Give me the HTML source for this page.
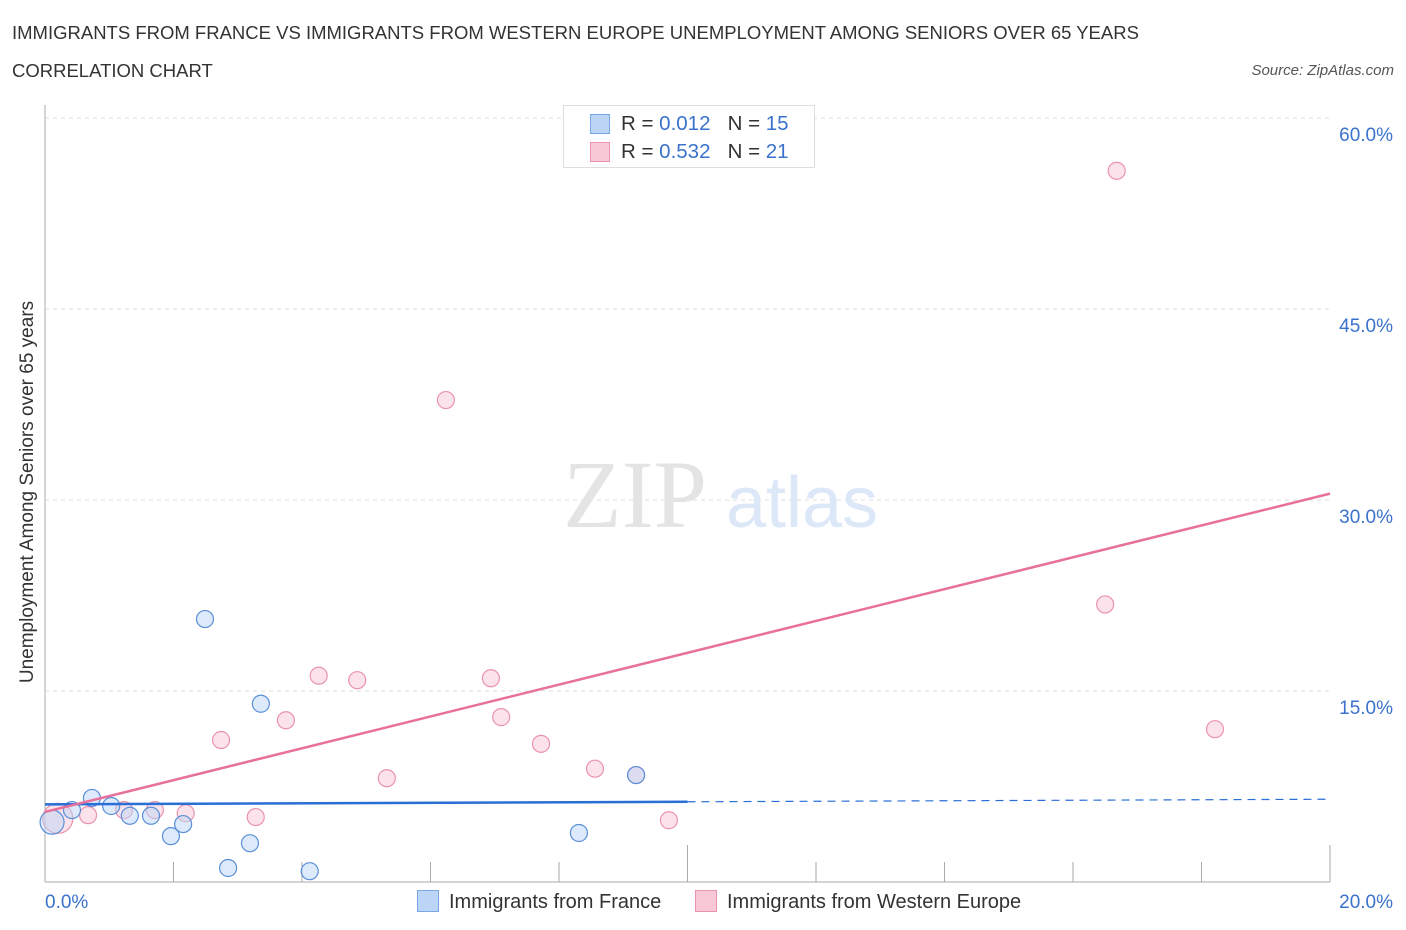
<!DOCTYPE html>
<html><head><meta charset="utf-8"><style>
body{margin:0;background:#fff;font-family:"Liberation Sans",sans-serif;}
#c{position:relative;width:1406px;height:930px;overflow:hidden;}
.t{position:absolute;white-space:nowrap;}
</style></head><body>
<div id="c">
<div class="t" style="left:12px;top:22px;font-size:18.5px;color:#333">IMMIGRANTS FROM FRANCE VS IMMIGRANTS FROM WESTERN EUROPE UNEMPLOYMENT AMONG SENIORS OVER 65 YEARS</div>
<div class="t" style="left:12px;top:60px;font-size:18.5px;color:#333">CORRELATION CHART</div>
<div class="t" style="right:12px;top:62px;font-size:15px;color:#555;font-style:italic">Source: ZipAtlas.com</div>
<svg id="s" width="1406" height="930" style="position:absolute;left:0;top:0"></svg>
<div class="t" style="left:563px;top:105px;width:250px;height:61px;border:1px solid #ddd;background:#fff;font-size:20.5px;color:#333">
<div style="position:absolute;left:26px;top:8px;width:18px;height:18px;background:#bcd5f7;border:1px solid #7aa7e6"></div>
<div style="position:absolute;left:57px;top:6px">R = <span style="color:#3a72cc">0.012</span>&nbsp;&nbsp;&nbsp;N = <span style="color:#3a72cc">15</span></div>
<div style="position:absolute;left:26px;top:36px;width:18px;height:18px;background:#f9c8d7;border:1px solid #ea93ad"></div>
<div style="position:absolute;left:57px;top:34px">R = <span style="color:#3a72cc">0.532</span>&nbsp;&nbsp;&nbsp;N = <span style="color:#3a72cc">21</span></div>
</div>
<div class="t" style="left:417px;top:890px;font-size:20px;color:#333"><span style="display:inline-block;width:20px;height:20px;background:#bcd5f7;border:1px solid #7aa7e6;vertical-align:-4px;margin-right:10px"></span>Immigrants from France</div>
<div class="t" style="left:695px;top:890px;font-size:20px;color:#333"><span style="display:inline-block;width:20px;height:20px;background:#f9c8d7;border:1px solid #ea93ad;vertical-align:-4px;margin-right:10px"></span>Immigrants from Western Europe</div>
<div class="t" style="top:492px;font-size:19px;color:#333;transform:translate(-50%,-50%) rotate(-90deg);left:28px">Unemployment Among Seniors over 65 years</div>
</div>
<script>
const xTicks=["0.0%","20.0%"];
const yTickVals=[15,30,45,60];
const yTickLabels=["15.0%","30.0%","45.0%","60.0%"];
const franceX=[0.11,0.42,0.73,1.03,1.32,1.65,1.96,2.15,2.49,2.85,3.19,3.36,4.12,8.31,9.2];
const franceY=[4.7,5.65,6.6,5.97,5.2,5.2,3.6,4.55,20.65,1.1,3.05,14.0,0.85,3.85,8.4];
const weX=[0.2,0.67,1.23,1.71,2.19,2.74,3.28,3.75,4.26,4.86,5.32,6.24,6.94,7.1,7.72,8.56,9.2,9.71,16.5,16.68,18.21];
const weY=[5.0,5.25,5.65,5.65,5.4,11.15,5.1,12.7,16.2,15.85,8.15,37.85,16.0,12.95,10.85,8.9,8.4,4.85,21.8,55.85,12.0];
const franceTrend=[6.1,6.5];
const weTrend=[5.5,30.5];
const X=v=>45+v/20*1285, Y=v=>882-v/60*764;
const s=document.getElementById('s');const NS='http://www.w3.org/2000/svg';
function mk(t,a){const e=document.createElementNS(NS,t);for(const k in a)e.setAttribute(k,a[k]);s.appendChild(e);return e;}
yTickVals.forEach((v,i)=>{
 const g=mk('line',{x1:45,x2:1330,y1:Y(v),y2:Y(v),stroke:'#ddd','stroke-dasharray':'4,4'});
 
 
 const t=mk('text',{x:1393,y:Y(v)+23,'text-anchor':'end','font-size':19,fill:'#3a72cc','font-family':'Liberation Sans'});t.textContent=yTickLabels[i];
 
 
});
const ax=mk('line',{x1:45,x2:45,y1:105,y2:882,stroke:'#aaa'});


const bx=mk('line',{x1:45,x2:1330,y1:882,y2:882,stroke:'#aaa'});


for(let i=0;i<=10;i++){
 const tall=(i==5||i==10);
 const tk=mk('line',{x1:X(i*2),x2:X(i*2),y1:882,y2:tall?845:862,stroke:'#aaa'});
 
 
}
[[0,'start',45],[1,'end',1393]].forEach(([i,a,x])=>{const t=mk('text',{x:x,y:908,'text-anchor':a,'font-size':19,fill:'#3a72cc','font-family':'Liberation Sans'});t.textContent=xTicks[i];
 
 });
const w1=mk('text',{x:635,y:527,'text-anchor':'middle','font-size':96,fill:'#e4e4e4','font-family':'Liberation Serif'});w1.textContent='ZIP';


const w2=mk('text',{x:802,y:527,'text-anchor':'middle','font-size':72,fill:'#dce8f8','font-family':'Liberation Sans'});w2.textContent='atlas';


weX.forEach((v,i)=>{const c=mk('circle',{cx:X(v),cy:Y(weY[i]),r:i==0?15:8.5,fill:'#f9c8d7','fill-opacity':0.5,stroke:'#ea93ad','stroke-width':1.2});
 
 });
franceX.forEach((v,i)=>{const c=mk('circle',{cx:X(v),cy:Y(franceY[i]),r:i==0?12:8.5,fill:'#bcd5f7','fill-opacity':0.5,stroke:'#5a8fd8','stroke-width':1.2});
 
 });
const l1=mk('line',{x1:X(0),y1:Y(franceTrend[0]),x2:X(10),y2:Y(franceTrend[0]+(franceTrend[1]-franceTrend[0])/2),stroke:'#2a6fd6','stroke-width':2.5});


const l2=mk('line',{x1:X(10),y1:Y(franceTrend[0]+(franceTrend[1]-franceTrend[0])/2),x2:X(20),y2:Y(franceTrend[1]),stroke:'#2a6fd6','stroke-width':1.2,'stroke-dasharray':'8,6'});


const l3=mk('line',{x1:X(0),y1:Y(weTrend[0]),x2:X(20),y2:Y(weTrend[1]),stroke:'#e8709a','stroke-width':2.5});


</script>
</body></html>
